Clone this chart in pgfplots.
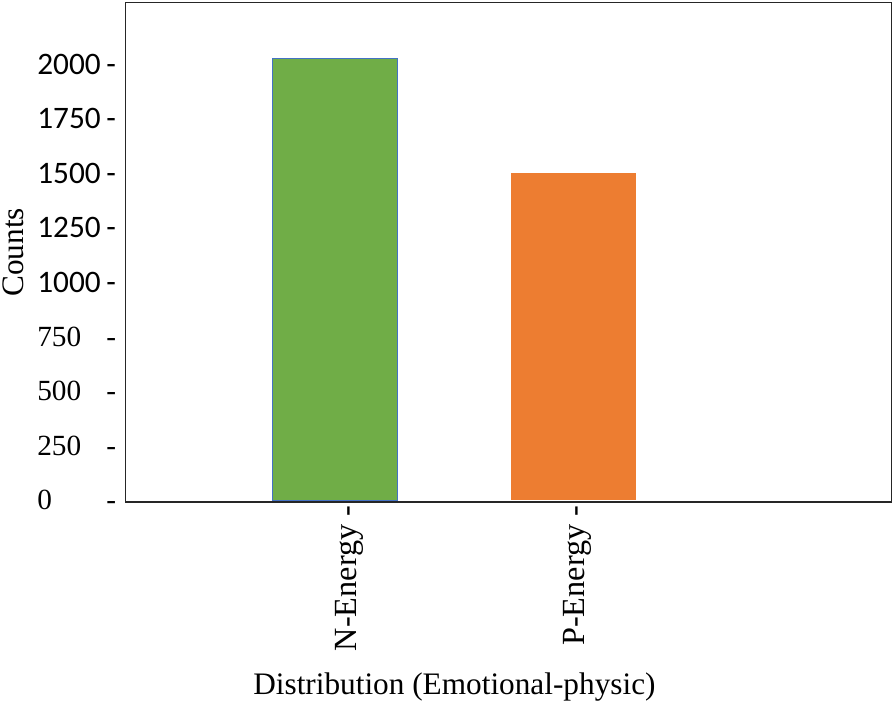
\documentclass[border={1.5pt 1pt 1pt 1pt}]{standalone}
\usepackage{fontspec}
\setmainfont{Liberation Serif}
\newfontfamily\calib{Carlito}
\usepackage{pgfplots}
\pgfplotsset{compat=1.18}

\definecolor{barGreen}{HTML}{70AD47}
\definecolor{barOrange}{HTML}{ED7D31}
\definecolor{edgeBlue}{HTML}{4472C4}

% tick labels: number left, dash right (serif and sans as in the source)
\newcommand\tlS[1]{\makebox[29pt][l]{\fontsize{14.5}{15}\selectfont #1}\makebox[10pt][r]{\fontsize{14.5}{15}\selectfont -}}
\newcommand\tlC[1]{\makebox[29pt][l]{\calib\fontsize{15.5}{16}\selectfont #1}\makebox[10pt][r]{\calib\fontsize{15.5}{16}\selectfont -}}

\begin{document}
\begin{tikzpicture}
\begin{axis}[
    scale only axis,
    width=379.5pt,
    height=247.5pt,
    xmin=-0.877, xmax=2.332,
    ymin=-9, ymax=2282,
    axis line style={black!85, line width=0.7pt},
    major tick length=0pt,
    xtick={0.061,1.017},
    xticklabels={N-Energy -, P-Energy -},
    xticklabel style={rotate=90, anchor=east, inner sep=0pt,
        font=\fontsize{16}{17}\selectfont},
    xticklabel shift=1.5pt,
    ytick={0,250,500,750,1000,1250,1500,1750,2000},
    yticklabels={\tlS{0},\tlS{250},\tlS{500},\tlS{750},\tlC{1000},\tlC{1250},\tlC{1500},\tlC{1750},\tlC{2000}},
    yticklabel style={anchor=east, inner xsep=0pt},
    yticklabel shift=4.5pt,
    ylabel={Counts},
    ylabel style={at={(axis description cs:-0.132,0.5)}, anchor=south,
        inner sep=0pt, font=\fontsize{15.5}{16}\selectfont},
    xlabel={Distribution (Emotional-physic)},
    xlabel style={at={(axis description cs:0.4295,-0.37)}, anchor=center,
        inner sep=0pt, font=\fontsize{15.5}{16}\selectfont},
    ybar,
    bar width=62pt,
    bar shift=0pt,
]
\addplot[fill=barGreen, draw=edgeBlue, line width=0.6pt] coordinates {(0,2025)};
\addplot[fill=barOrange, draw=none] coordinates {(1,1500)};
\end{axis}
\end{tikzpicture}
\end{document}
